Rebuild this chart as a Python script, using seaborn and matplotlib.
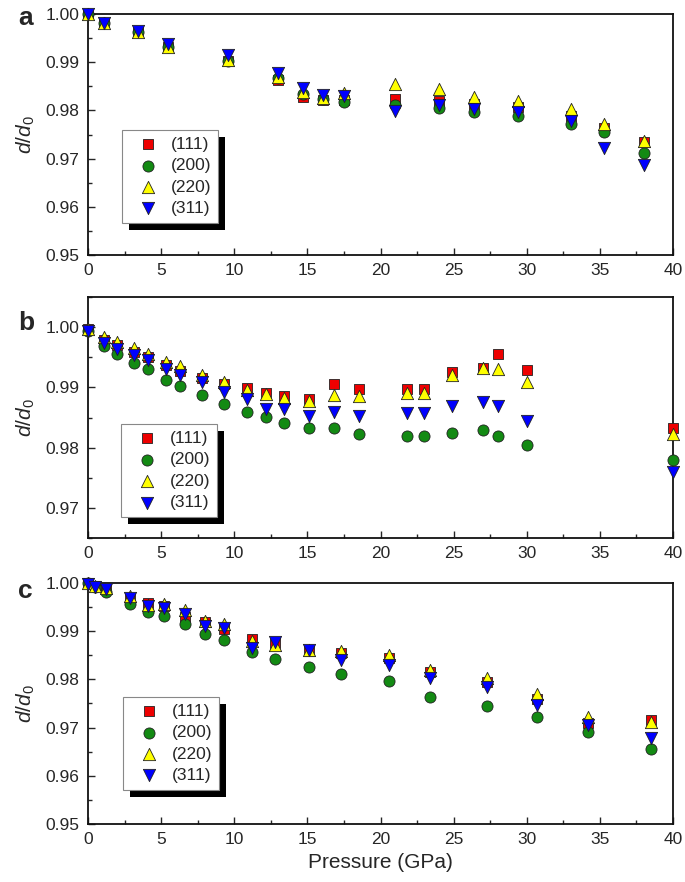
import numpy as np
import pandas as pd
import matplotlib
matplotlib.use('Agg')
import matplotlib.pyplot as plt
import matplotlib.transforms as mtransforms
from matplotlib.patches import Rectangle
from matplotlib.ticker import MultipleLocator, FormatStrFormatter
import seaborn as sns

# ---- data: d/d0 vs pressure (GPa) ----
labels = ['(111)', '(200)', '(220)', '(311)']

# panel a
p_a = [0, 1.1, 3.4, 5.5, 9.6, 13.0, 14.7, 16.1, 17.5, 21.0, 24.0, 26.4, 29.4, 33.0, 35.3, 38.0]
a_111 = [1.000, 0.9982, 0.9963, 0.9932, 0.9902, 0.9864, 0.9828, 0.9822, 0.9822, 0.9824, 0.9820, 0.9813, 0.9808, 0.9789, 0.9763, 0.9735]
a_200 = [1.000, 0.9981, 0.9962, 0.9931, 0.9902, 0.9868, 0.9835, 0.9823, 0.9818, 0.9812, 0.9804, 0.9796, 0.9788, 0.9772, 0.9756, 0.9712]
a_220 = [1.000, 0.9982, 0.9963, 0.9931, 0.9905, 0.9870, 0.9839, 0.9826, 0.9837, 0.9855, 0.9845, 0.9827, 0.9820, 0.9803, 0.9771, 0.9736]
a_311 = [1.000, 0.9982, 0.9964, 0.9937, 0.9915, 0.9877, 0.9846, 0.9832, 0.9829, 0.9799, 0.9811, 0.9802, 0.9796, 0.9779, 0.9721, 0.9687]

# panel b
p_b = [0, 1.1, 1.95, 3.15, 4.1, 5.3, 6.3, 7.8, 9.3, 10.9, 12.2, 13.4, 15.1, 16.8, 18.5, 21.8, 23.0, 24.9, 27.0, 28.0, 30.0, 40.0]
b_111 = [0.9997, 0.9978, 0.9970, 0.9958, 0.9950, 0.9937, 0.9928, 0.9915, 0.9905, 0.9899, 0.9891, 0.9886, 0.9880, 0.9905, 0.9897, 0.9898, 0.9898, 0.9925, 0.9933, 0.9956, 0.9929, 0.9832]
b_200 = [0.9994, 0.9968, 0.9956, 0.9941, 0.9930, 0.9913, 0.9903, 0.9888, 0.9873, 0.9860, 0.9851, 0.9841, 0.9832, 0.9833, 0.9822, 0.9819, 0.9819, 0.9825, 0.9829, 0.9819, 0.9805, 0.9779]
b_220 = [0.9997, 0.9984, 0.9976, 0.9965, 0.9956, 0.9943, 0.9935, 0.9921, 0.9909, 0.9896, 0.9889, 0.9883, 0.9877, 0.9888, 0.9886, 0.9890, 0.9890, 0.9920, 0.9932, 0.9930, 0.9909, 0.9822]
b_311 = [0.9993, 0.9973, 0.9964, 0.9953, 0.9945, 0.9930, 0.9921, 0.9909, 0.9893, 0.9880, 0.9865, 0.9864, 0.9853, 0.9860, 0.9853, 0.9858, 0.9857, 0.9869, 0.9875, 0.9869, 0.9845, 0.9759]

# panel c
p_c = [0, 0.5, 1.2, 2.9, 4.1, 5.2, 6.6, 8.0, 9.3, 11.2, 12.8, 15.1, 17.3, 20.6, 23.4, 27.3, 30.7, 34.2, 38.5]
c_111 = [0.9999, 0.9993, 0.9987, 0.9968, 0.9958, 0.9953, 0.9930, 0.9920, 0.9905, 0.9884, 0.9875, 0.9858, 0.9855, 0.9845, 0.9816, 0.9795, 0.9759, 0.9709, 0.9716]
c_200 = [0.9999, 0.9992, 0.9981, 0.9957, 0.9940, 0.9931, 0.9915, 0.9894, 0.9882, 0.9856, 0.9842, 0.9825, 0.9812, 0.9797, 0.9763, 0.9745, 0.9721, 0.9690, 0.9656]
c_220 = [0.9999, 0.9994, 0.9990, 0.9972, 0.9955, 0.9956, 0.9943, 0.9922, 0.9915, 0.9880, 0.9872, 0.9862, 0.9859, 0.9851, 0.9820, 0.9803, 0.9770, 0.9721, 0.9711]
c_311 = [0.9998, 0.9992, 0.9988, 0.9969, 0.9953, 0.9948, 0.9936, 0.9910, 0.9907, 0.9865, 0.9877, 0.9862, 0.9841, 0.9830, 0.9803, 0.9784, 0.9747, 0.9706, 0.9678]

panels = [
    ('a', p_a, [a_111, a_200, a_220, a_311], (0.95, 1.00), (0.058, 0.133)),
    ('b', p_b, [b_111, b_200, b_220, b_311], (0.965, 1.005), (0.056, 0.087)),
    ('c', p_c, [c_111, c_200, c_220, c_311], (0.95, 1.00), (0.060, 0.141)),
]

colors = ['#ee0000', '#138a13', '#ffff00', '#0000ff']
markers = ['s', 'o', '^', 'v']
sizes = [46, 64, 78, 78]

sns.set_style('white')
plt.rcParams['font.family'] = ['Liberation Sans', 'DejaVu Sans']
plt.rcParams['mathtext.fontset'] = 'custom'
plt.rcParams['mathtext.it'] = 'Liberation Sans:italic'
plt.rcParams['mathtext.rm'] = 'Liberation Sans'

fig = plt.figure(figsize=(6.85, 8.82), dpi=100)
bottoms = [0.7109, 0.3900, 0.0658]
letter_y = [0.9717, 0.6259, 0.3220]

for (letter, pres, series, ylim, leg_pos), bot, ly in zip(panels, bottoms, letter_y):
    ax = fig.add_axes([0.1285, bot, 0.854, 0.2732])
    for vals, lab, col, mk, sz in zip(series, labels, colors, markers, sizes):
        df = pd.DataFrame({'P': pres, 'r': vals})
        sns.scatterplot(data=df, x='P', y='r', marker=mk, color=col, s=sz,
                        edgecolor='#222222', linewidth=0.6, label=lab, ax=ax,
                        zorder=3, clip_on=False)
    ax.set_xlim(0, 40)
    ax.set_ylim(*ylim)
    ax.xaxis.set_major_locator(MultipleLocator(5))
    ax.xaxis.set_minor_locator(MultipleLocator(2.5))
    ax.yaxis.set_major_locator(MultipleLocator(0.01))
    ax.yaxis.set_minor_locator(MultipleLocator(0.005))
    ax.yaxis.set_major_formatter(FormatStrFormatter('%.2f'))
    ax.tick_params(axis='both', which='major', direction='in', length=5, width=1,
                   labelsize=12.5, bottom=True, left=True, top=False, right=False, pad=6)
    ax.tick_params(axis='both', which='minor', direction='in', length=3, width=1,
                   bottom=True, left=True, top=False, right=False)
    for sp in ax.spines.values():
        sp.set_linewidth(1.3)
        sp.set_color('#111111')
    ax.set_xlabel('')
    ax.set_ylabel(r'$d/d_\mathrm{0}$', fontsize=15, labelpad=6)

    leg = ax.legend(loc='lower left', bbox_to_anchor=leg_pos, borderaxespad=0,
                    fontsize=12.5, frameon=True, fancybox=False, framealpha=1,
                    edgecolor='#888888', borderpad=0.4, handlelength=2.2,
                    handletextpad=0.2, labelspacing=0.36)
    leg.get_frame().set_linewidth(0.8)
    leg.set_zorder(6)

    fig.text(0.027, ly, letter, fontsize=19, fontweight='bold', va='baseline')

# black shadow boxes behind the legends
fig.canvas.draw()
for ax in fig.axes:
    bb = ax.get_legend().get_window_extent()
    shadow = Rectangle((bb.x0 + 7, bb.y0 - 7), bb.width, bb.height,
                       transform=mtransforms.IdentityTransform(),
                       facecolor='black', edgecolor='none', zorder=5.5,
                       clip_on=False)
    ax.add_patch(shadow)

fig.axes[2].set_xlabel('Pressure (GPa)', fontsize=15, labelpad=4)

fig.savefig('out.png', dpi=100)
